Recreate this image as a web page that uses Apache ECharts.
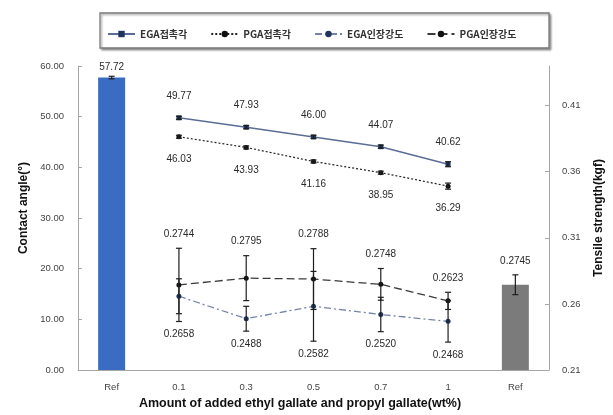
<!DOCTYPE html>
<html>
<head>
<meta charset="utf-8">
<script src="https://cdn.jsdelivr.net/npm/echarts@6/dist/echarts.min.js"></script>
<style>
  html, body { margin: 0; padding: 0; background: #fff; }
  #chart { width: 613px; height: 415px; }
</style>
</head>
<body>
<div id="chart"></div>
<script>
// Categories along the x axis: reference, additive amounts (wt%), reference
const categories = ['Ref', '0.1', '0.3', '0.5', '0.7', '1', 'Ref'];
const amountIndex = [1, 2, 3, 4, 5];

// Contact angle (°)
const egaAngle = [49.77, 47.93, 46.00, 44.07, 40.62];
const pgaAngle = [46.03, 43.93, 41.16, 38.95, 36.29];
const egaAngleErr = [0.3, 0.3, 0.3, 0.3, 0.5];
const pgaAngleErr = [0.3, 0.3, 0.3, 0.3, 0.6];

// Tensile strength (kgf)
const egaTensile = [0.2658, 0.2488, 0.2582, 0.2520, 0.2468];
const pgaTensile = [0.2744, 0.2795, 0.2788, 0.2748, 0.2623];
const egaTensileErr = [0.0132, 0.0094, 0.0264, 0.013, 0.0157];
const pgaTensileErr = [0.0277, 0.017, 0.023, 0.012, 0.0065];

// Reference film values
const refAngle = 57.72, refAngleErr = 0.25;
const refTensile = 0.2745, refTensileErr = 0.0075;

// Axis ticks
const angleTicks = [0, 10, 20, 30, 40, 50, 60];
const tensileTicks = [0.21, 0.26, 0.31, 0.36, 0.41];

const seriesNames = ['EGA접촉각', 'PGA접촉각', 'EGA인장강도', 'PGA인장강도'];

const pairs = (vals) => vals.map((v, i) => [amountIndex[i], v]);
// [category, value, error, lowest bar end of the pair at this category]
const triples = (vals, errs, otherVals, otherErrs) => vals.map((v, i) => {
  const low = otherVals ? Math.min(v - errs[i], otherVals[i] - otherErrs[i]) : v - errs[i];
  return [amountIndex[i], v, errs[i], low];
});

const labelFont = { fontFamily: 'Liberation Sans', fontSize: 10, color: '#2a2a2a' };

// Error bar renderer; optionally writes the value label beyond the bar end
function errorBars(labelSide, digits) {
  return function (params, api) {
    const x = api.value(0), v = api.value(1), e = api.value(2);
    const top = api.coord([x, v + e]);
    const bot = api.coord([x, v - e]);
    const cap = 3;
    const style = { stroke: '#1e1e1e', lineWidth: 1.2 };
    const children = [
      { type: 'line', shape: { x1: top[0], y1: top[1], x2: bot[0], y2: bot[1] }, style },
      { type: 'line', shape: { x1: top[0] - cap, y1: top[1], x2: top[0] + cap, y2: top[1] }, style },
      { type: 'line', shape: { x1: bot[0] - cap, y1: bot[1], x2: bot[0] + cap, y2: bot[1] }, style }
    ];
    if (labelSide) {
      let y;
      if (labelSide === 'top') {
        y = top[1] - 14;
      } else {
        const low = api.value(3);
        const lowPt = api.coord([x, isNaN(low) ? v - e : low]);
        y = lowPt[1] + 13;
      }
      children.push({
        type: 'text',
        style: {
          x: top[0], y: y, text: v.toFixed(digits),
          align: 'center', verticalAlign: 'middle',
          fill: '#2a2a2a', font: '10px "Liberation Sans"'
        }
      });
    }
    return { type: 'group', children };
  };
}

const chart = echarts.init(document.getElementById('chart'), null, { renderer: 'canvas' });

chart.setOption({
  animation: false,
  backgroundColor: '#ffffff',
  grid: { left: 78, right: 64, top: 66, bottom: 44 },
  graphic: [{
    type: 'rect',
    shape: { x: 100, y: 13, width: 449, height: 35 },
    style: { fill: '#fff', stroke: '#7a7a7a', lineWidth: 1.3,
             shadowColor: 'rgba(0,0,0,0.35)', shadowBlur: 2, shadowOffsetX: 1.5, shadowOffsetY: 1.5 },
    z: 0
  }],
  legend: {
    data: seriesNames,
    left: 102, top: 24,
    itemWidth: 27, itemHeight: 8, itemGap: 23,
    textStyle: { fontFamily: 'Noto Sans CJK KR', fontSize: 10, fontWeight: 'bold', color: '#333' },
    z: 5
  },
  xAxis: {
    type: 'category',
    data: categories,
    boundaryGap: true,
    axisLine: { lineStyle: { color: '#a6a6a6', width: 1 } },
    axisTick: { inside: true, length: 5, lineStyle: { color: '#a6a6a6' } },
    axisLabel: { fontFamily: 'Liberation Sans', fontSize: 9.5, color: '#444', margin: 12 },
    name: 'Amount of added ethyl gallate and propyl gallate(wt%)',
    nameLocation: 'middle',
    nameGap: 27,
    nameTextStyle: { fontFamily: 'Liberation Sans', fontSize: 12.5, fontWeight: 'bold', color: '#111', padding: [0, 27, 0, 0] }
  },
  yAxis: [{
    type: 'value',
    min: angleTicks[0], max: angleTicks[angleTicks.length - 1], interval: 10,
    axisLine: { show: true, lineStyle: { color: '#a6a6a6' } },
    axisTick: { show: true, inside: true, length: 4, lineStyle: { color: '#a6a6a6' } },
    splitLine: { show: false },
    axisLabel: { fontFamily: 'Liberation Sans', fontSize: 9.5, color: '#444', margin: 14,
                 formatter: (v) => v.toFixed(2) },
    name: 'Contact angle(°)',
    nameLocation: 'middle',
    nameGap: 46,
    nameTextStyle: { fontFamily: 'Liberation Sans', fontSize: 12, fontWeight: 'bold', color: '#111', padding: [0, 0, 0, 20] }
  }, {
    type: 'value',
    min: 0.21, max: 0.44,
    axisLine: { show: true, lineStyle: { color: '#a6a6a6' } },
    axisTick: { show: true, inside: true, length: 4, customValues: tensileTicks, lineStyle: { color: '#a6a6a6' } },
    splitLine: { show: false },
    axisLabel: { customValues: tensileTicks, fontFamily: 'Liberation Sans', fontSize: 9.5, color: '#444', margin: 13,
                 formatter: (v) => v.toFixed(2) },
    name: 'Tensile strength(kgf)',
    nameLocation: 'middle',
    nameGap: 44,
    nameRotate: 90,
    nameTextStyle: { fontFamily: 'Liberation Sans', fontSize: 12, fontWeight: 'bold', color: '#111' }
  }],
  series: [
    {
      name: 'Ref 접촉각', type: 'bar', yAxisIndex: 0,
      data: [[0, refAngle]], barWidth: 27, barGap: '-100%',
      itemStyle: { color: '#3b6cc4' },
      label: { show: true, position: 'top', distance: 5, formatter: (p) => p.value[1].toFixed(2), ...labelFont }
    },
    {
      name: 'Ref 인장강도', type: 'bar', yAxisIndex: 1,
      data: [[6, refTensile]], barWidth: 27, barGap: '-100%',
      itemStyle: { color: '#7b7b7b' }
    },
    {
      name: seriesNames[0], type: 'line', yAxisIndex: 0,
      data: pairs(egaAngle),
      symbol: 'rect', symbolSize: 5,
      lineStyle: { color: '#5b6d96', width: 1.5 },
      itemStyle: { color: '#1f355e' },
      label: { show: true, position: 'top', distance: 14, formatter: (p) => p.value[1].toFixed(2), ...labelFont },
      z: 3
    },
    {
      name: seriesNames[1], type: 'line', yAxisIndex: 0,
      data: pairs(pgaAngle),
      symbol: 'circle', symbolSize: 5,
      lineStyle: { color: '#222', width: 1.2, type: [2, 2] },
      itemStyle: { color: '#111' },
      label: { show: true, position: 'bottom', distance: 15, formatter: (p) => p.value[1].toFixed(2), ...labelFont },
      z: 3
    },
    {
      name: seriesNames[2], type: 'line', yAxisIndex: 1,
      data: pairs(egaTensile),
      symbol: 'circle', symbolSize: 5,
      lineStyle: { color: '#7584a6', width: 1.3, type: [7, 3, 2, 3] },
      itemStyle: { color: '#1f355e' },
      z: 3
    },
    {
      name: seriesNames[3], type: 'line', yAxisIndex: 1,
      data: pairs(pgaTensile),
      symbol: 'circle', symbolSize: 5,
      lineStyle: { color: '#3a3a3a', width: 1.3, type: [8, 4] },
      itemStyle: { color: '#111' },
      z: 3
    },
    // Error bars
    { type: 'custom', yAxisIndex: 0, renderItem: errorBars(null, 2),
      data: [[0, refAngle, refAngleErr]], encode: { x: 0, y: 1 }, z: 4 },
    { type: 'custom', yAxisIndex: 1, renderItem: errorBars('top', 4),
      data: [[6, refTensile, refTensileErr]], encode: { x: 0, y: 1 }, z: 4 },
    { type: 'custom', yAxisIndex: 0, renderItem: errorBars(null, 2),
      data: triples(egaAngle, egaAngleErr), encode: { x: 0, y: 1 }, z: 4 },
    { type: 'custom', yAxisIndex: 0, renderItem: errorBars(null, 2),
      data: triples(pgaAngle, pgaAngleErr), encode: { x: 0, y: 1 }, z: 4 },
    { type: 'custom', yAxisIndex: 1, renderItem: errorBars('bottom', 4),
      data: triples(egaTensile, egaTensileErr, pgaTensile, pgaTensileErr), encode: { x: 0, y: 1 }, z: 4 },
    { type: 'custom', yAxisIndex: 1, renderItem: errorBars('top', 4),
      data: triples(pgaTensile, pgaTensileErr), encode: { x: 0, y: 1 }, z: 4 }
  ]
});
</script>
</body>
</html>
